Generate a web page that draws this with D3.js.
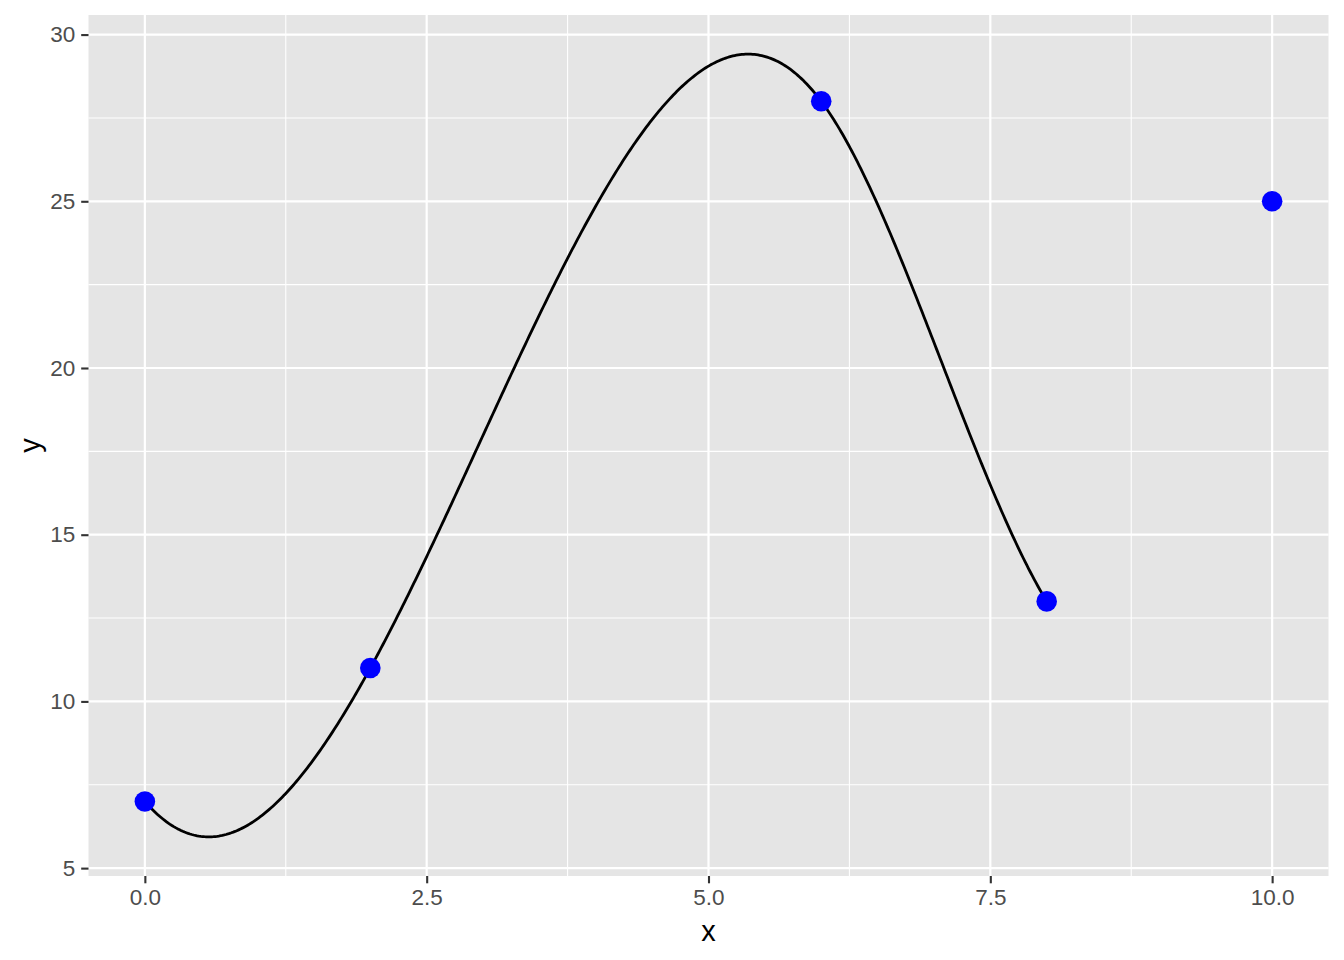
<!DOCTYPE html>
<html>
<head>
<meta charset="utf-8">
<script src="https://cdn.jsdelivr.net/npm/d3@7"></script>
<style>
  html, body { margin: 0; padding: 0; background: #ffffff; }
  svg { display: block; }
</style>
</head>
<body>
<svg id="chart" width="1344" height="960"></svg>
<script>
// ---- data ----
const xs = [0, 2, 6, 8, 10];
const ys = [7, 11, 28, 13, 25];
const curveXMin = 0;
const curveXMax = 8;
const xTicks = [0, 2.5, 5, 7.5, 10];
const xTickLabels = ["0.0", "2.5", "5.0", "7.5", "10.0"];
const yTicks = [5, 10, 15, 20, 25, 30];
const yTickLabels = ["5", "10", "15", "20", "25", "30"];
const xMinor = [1.25, 3.75, 6.25, 8.75];
const yMinor = [7.5, 12.5, 17.5, 22.5, 27.5];

// ---- cubic spline (not-a-knot) ----
function solve(A, b) {
  const n = b.length;
  const M = A.map((r, i) => r.concat([b[i]]));
  for (let c = 0; c < n; c++) {
    let p = c;
    for (let r = c + 1; r < n; r++) if (Math.abs(M[r][c]) > Math.abs(M[p][c])) p = r;
    [M[c], M[p]] = [M[p], M[c]];
    for (let r = 0; r < n; r++) {
      if (r === c) continue;
      const f = M[r][c] / M[c][c];
      for (let k = c; k <= n; k++) M[r][k] -= f * M[c][k];
    }
  }
  return M.map((r, i) => r[n] / r[i]);
}
function notAKnotSpline(x, y) {
  const n = x.length;
  const h = [];
  for (let i = 0; i < n - 1; i++) h.push(x[i + 1] - x[i]);
  const A = [], b = [];
  const row = () => new Array(n).fill(0);
  let r = row();
  r[0] = -1 / h[0]; r[1] = 1 / h[0] + 1 / h[1]; r[2] = -1 / h[1];
  A.push(r); b.push(0);
  for (let i = 1; i < n - 1; i++) {
    r = row();
    r[i - 1] = h[i - 1]; r[i] = 2 * (h[i - 1] + h[i]); r[i + 1] = h[i];
    A.push(r);
    b.push(6 * ((y[i + 1] - y[i]) / h[i] - (y[i] - y[i - 1]) / h[i - 1]));
  }
  r = row();
  r[n - 3] = -1 / h[n - 3]; r[n - 2] = 1 / h[n - 3] + 1 / h[n - 2]; r[n - 1] = -1 / h[n - 2];
  A.push(r); b.push(0);
  const M = solve(A, b);
  return function (t) {
    let i = 0;
    while (i < n - 2 && t > x[i + 1]) i++;
    const hi = h[i], a = x[i + 1] - t, c = t - x[i];
    return M[i] * a * a * a / (6 * hi) + M[i + 1] * c * c * c / (6 * hi) +
      (y[i] / hi - M[i] * hi / 6) * a + (y[i + 1] / hi - M[i + 1] * hi / 6) * c;
  };
}
const spl = notAKnotSpline(xs, ys);
const curve = d3.range(0, 501).map(k => {
  const t = curveXMin + (curveXMax - curveXMin) * k / 500;
  return [t, spl(t)];
});

// ---- layout ----
const svg = d3.select("#chart");
const panel = { left: 88.5, right: 1328.5, top: 15, bottom: 876 };

const xData = d3.extent(xs.concat(curve.map(d => d[0])));
const yData = d3.extent(ys.concat(curve.map(d => d[1])));
const xPad = (xData[1] - xData[0]) * 0.05;
const yPad = (yData[1] - yData[0]) * 0.05;
const x = d3.scaleLinear().domain([xData[0] - xPad, xData[1] + xPad]).range([panel.left, panel.right]);
const y = d3.scaleLinear().domain([yData[0] - yPad, yData[1] + yPad]).range([panel.bottom, panel.top]);

const font = "'Liberation Sans', Arial, Helvetica, sans-serif";

svg.append("rect")
  .attr("x", panel.left).attr("y", panel.top)
  .attr("width", panel.right - panel.left).attr("height", panel.bottom - panel.top)
  .attr("fill", "#E5E5E5");

const grid = svg.append("g");
grid.selectAll(".xmin").data(xMinor).join("line")
  .attr("x1", d => x(d)).attr("x2", d => x(d))
  .attr("y1", panel.top).attr("y2", panel.bottom)
  .attr("stroke", "#ffffff").attr("stroke-width", 1.1);
grid.selectAll(".ymin").data(yMinor).join("line")
  .attr("y1", d => y(d)).attr("y2", d => y(d))
  .attr("x1", panel.left).attr("x2", panel.right)
  .attr("stroke", "#ffffff").attr("stroke-width", 1.1);
grid.selectAll(".xmaj").data(xTicks).join("line")
  .attr("x1", d => x(d)).attr("x2", d => x(d))
  .attr("y1", panel.top).attr("y2", panel.bottom)
  .attr("stroke", "#ffffff").attr("stroke-width", 2.2);
grid.selectAll(".ymaj").data(yTicks).join("line")
  .attr("y1", d => y(d)).attr("y2", d => y(d))
  .attr("x1", panel.left).attr("x2", panel.right)
  .attr("stroke", "#ffffff").attr("stroke-width", 2.2);

// curve
svg.append("path")
  .datum(curve)
  .attr("d", d3.line().x(d => x(d[0])).y(d => y(d[1])))
  .attr("fill", "none")
  .attr("stroke", "#000000")
  .attr("stroke-width", 2.8)
  .attr("stroke-linejoin", "round");

// points
svg.append("g").selectAll("circle")
  .data(xs.map((d, i) => [d, ys[i]]))
  .join("circle")
  .attr("cx", d => x(d[0])).attr("cy", d => y(d[1]))
  .attr("r", 10.3)
  .attr("fill", "#0000FF");

// axes
const xAxis = d3.axisBottom(x).tickValues(xTicks)
  .tickFormat((d, i) => xTickLabels[i]).tickSize(7.3).tickPadding(6);
const yAxis = d3.axisLeft(y).tickValues(yTicks)
  .tickFormat((d, i) => yTickLabels[i]).tickSize(7.3).tickPadding(6);

const gx = svg.append("g").attr("transform", `translate(0,${panel.bottom})`).call(xAxis);
const gy = svg.append("g").attr("transform", `translate(${panel.left},0)`).call(yAxis);
[gx, gy].forEach(g => {
  g.select(".domain").remove();
  g.selectAll(".tick line").attr("stroke", "#333333").attr("stroke-width", 2.1);
  g.selectAll(".tick text").attr("fill", "#4D4D4D")
    .style("font-family", font).style("font-size", "22.5px");
});

// axis titles
svg.append("text")
  .attr("x", (panel.left + panel.right) / 2).attr("y", 941)
  .attr("text-anchor", "middle")
  .style("font-family", font).style("font-size", "29px").attr("fill", "#000000")
  .text("x");
svg.append("text")
  .attr("transform", `translate(40,${(panel.top + panel.bottom) / 2}) rotate(-90)`)
  .attr("text-anchor", "middle")
  .style("font-family", font).style("font-size", "29px").attr("fill", "#000000")
  .text("y");
</script>
</body>
</html>
